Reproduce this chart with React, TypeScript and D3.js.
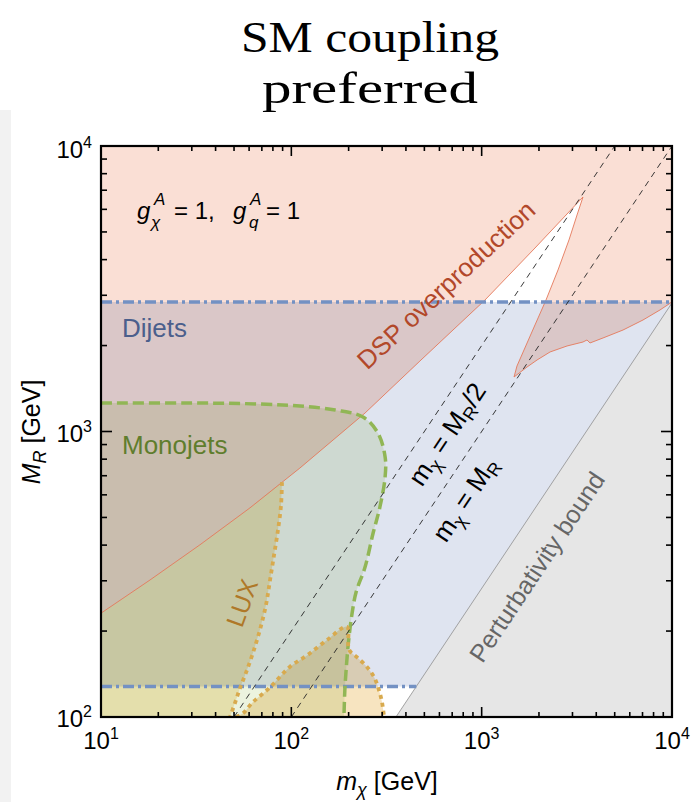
import React from 'react';
import * as d3 from 'd3';

// ---------- data (m_chi [GeV], M_R [GeV]) ----------
const xDomain = [10, 10000];
const yDomain = [100, 10000];
const xMajor = [10, 100, 1000, 10000];
const yMajor = [100, 1000, 10000];
const xTickExp = ['1', '2', '3', '4'];
const yTickExp = ['2', '3', '4'];

// DSP overproduction boundary (upper-left edge, up to tip)
const dspUpperM = [10, 18.1, 33.1, 60.6, 111, 244, 474, 1041, 1906, 3407];
const dspUpperMR = [231, 302, 401, 540, 745, 1161, 1766, 2888, 4392, 6628];
// right edge of allowed wedge, from tip down to cusp
const dspWedgeM = [3170, 2876, 2518, 2178, 1906, 1669, 1533, 1479];
const dspWedgeMR = [5733, 4688, 3679, 2888, 2361, 1930, 1696, 1552];
// lower lobe edge from cusp to right border
const dspLowerM = [1731, 1954, 2287, 2808, 3407, 3576, 3709, 4340, 5528, 7041, 8650, 10000];
const dspLowerMR = [1682, 1780, 1899, 1993, 2058, 2092, 2042, 2126, 2267, 2458, 2665, 2842];

// Dijets band
const dijetLow = 128;
const dijetHigh = 2840;

// Monojets boundary
const monoM = [10, 33.1, 68.4, 111, 170, 238, 285, 311, 311, 292, 269, 244, 219, 208, 199, 194, 191, 189];
const monoMR = [1258, 1258, 1248, 1228, 1189, 1124, 988, 814, 693, 544, 441, 335, 274, 228, 179, 146, 124, 100];

// LUX left region boundary
const luxM = [89.3, 88.3, 85.1, 81.1, 77.3, 73.6, 68.4, 62.9, 57.8, 53.7, 50.6, 47.6];
const luxMR = [665, 553, 452, 369, 302, 247, 202, 168, 143, 126, 112, 100];
// LUX dome (resonant region)
const domeM = [51.2, 55.7, 62.2, 77.3, 98.4, 122, 154, 196, 201, 221, 247, 272, 289, 300, 307];
const domeMR = [100, 103, 112, 127, 150, 165, 186, 207, 172, 162, 151, 138, 124, 112, 100];

// Perturbativity bound: m_chi = sqrt(4 pi) M_R
const pertFactor = Math.sqrt(4 * Math.PI);
// reference lines m_chi = M_R / k
const refRatios = [2, 1];

type P = [number, number];
const zip = (a: number[], b: number[]): P[] => a.map((v, i) => [v, b[i]] as P);

const SANS = 'Liberation Sans, Arial, Helvetica, sans-serif';
const SERIF = 'Liberation Serif, Times New Roman, serif';

export default function App() {
  const X0 = 101, X1 = 672, Y0 = 717, Y1 = 146;
  const x = d3.scaleLog().domain(xDomain).range([X0, X1]);
  const y = d3.scaleLog().domain(yDomain).range([Y0, Y1]);
  const line = d3.line<P>().x(d => x(d[0])).y(d => y(d[1]));
  const smooth = d3.line<P>().x(d => x(d[0])).y(d => y(d[1])).curve(d3.curveCatmullRom.alpha(0.5));

  const dspUpper = zip(dspUpperM, dspUpperMR);
  const dspWedge = zip(dspWedgeM, dspWedgeMR);
  const dspLower = zip(dspLowerM, dspLowerMR);
  const dspEdge = [...dspUpper, ...dspWedge, ...dspLower];
  const dspPoly: P[] = [[10, 10000], ...dspEdge, [10000, 10000]];

  const mono = zip(monoM, monoMR);
  const monoFill = smooth(mono) + `L${x(10)},${y(100)}Z`;

  const lux = zip(luxM, luxMR);
  const luxPoly: P[] = [[10, 100], ...dspUpper.filter(p => p[0] < luxM[0]), ...lux];
  const dome = zip(domeM, domeMR);

  const pertLow: P = [100 * pertFactor, 100];
  const pertHigh: P = [10000, 10000 / pertFactor];
  const grayPoly: P[] = [pertLow, pertHigh, [10000, 100]];

  const bandPoly: P[] = [[10, dijetLow], [10, dijetHigh], [10000, dijetHigh], [10000, dijetLow]];

  // ticks
  const minorX: number[] = [];
  [10, 100, 1000].forEach(d => { for (let k = 2; k <= 9; k++) minorX.push(d * k); });
  const minorY: number[] = [];
  [100, 1000].forEach(d => { for (let k = 2; k <= 9; k++) minorY.push(d * k); });

  const tickStroke = { stroke: '#000', strokeWidth: 1.6 };
  const mult = { mixBlendMode: 'multiply' as const };

  return (
    <svg width={691} height={802} style={{ position: 'absolute', left: 0, top: 0, background: '#fff' }}
      xmlns="http://www.w3.org/2000/svg">
      <rect x={0} y={0} width={691} height={802} fill="#fff" />
      <rect x={0} y={110} width={11} height={692} fill="#f2f2f2" />
      <defs>
        <clipPath id="plot">
          <rect x={X0} y={Y1} width={X1 - X0} height={Y0 - Y1} />
        </clipPath>
      </defs>

      {/* title */}
      <text x={370} y={52} textAnchor="middle" fontFamily={SERIF} fontSize={45}
        textLength={258} lengthAdjust="spacingAndGlyphs">SM coupling</text>
      <text x={370} y={103} textAnchor="middle" fontFamily={SERIF} fontSize={45}
        textLength={216} lengthAdjust="spacingAndGlyphs">preferred</text>

      <g clipPath="url(#plot)" style={{ isolation: 'isolate' }}>
        <rect x={X0} y={Y1} width={X1 - X0} height={Y0 - Y1} fill="#fff" />
        {/* fills */}
        <path d={line(bandPoly) + 'Z'} fill="rgb(223,228,240)" style={mult} />
        <path d={line(dspPoly) + 'Z'} fill="rgb(250,223,213)" style={mult} />
        <path d={monoFill} fill="rgb(236,243,222)" style={mult} />
        <path d={line(luxPoly) + 'Z'} fill="rgb(247,234,198)" style={mult} />
        <path d={smooth(dome) + 'Z'} fill="rgb(247,228,192)" style={mult} />
        <path d={line(grayPoly) + 'Z'} fill="#e6e6e6" />

        {/* boundaries */}
        <path d={line(dspEdge)!} fill="none" stroke="rgb(228,120,90)" strokeWidth={0.9} />
        <path d={line([pertLow, pertHigh])!} fill="none" stroke="#999" strokeWidth={0.9} />
        <path d={line([[10, dijetHigh], [10000, dijetHigh]])!} fill="none" stroke="rgb(115,145,195)"
          strokeWidth={3.5} strokeDasharray="11,4,3,4" />
        <path d={line([[10, dijetLow], [dijetLow * pertFactor, dijetLow]])!} fill="none" stroke="rgb(115,145,195)"
          strokeWidth={3.5} strokeDasharray="11,4,3,4" />
        <path d={smooth(mono)!} fill="none" stroke="rgb(145,182,85)" strokeWidth={3.5} strokeDasharray="11,5" />
        <path d={smooth(lux)!} fill="none" stroke="rgb(216,170,78)" strokeWidth={3.8} strokeDasharray="4,4" />
        <path d={smooth(dome)!} fill="none" stroke="rgb(216,170,78)" strokeWidth={3.8} strokeDasharray="4,4" />

        {refRatios.map((k, i) => (
          <path key={i} d={line([[100 / k, 100], [10000 / k, 10000]])!} fill="none" stroke="#222"
            strokeWidth={0.9} strokeDasharray="6,5" />
        ))}
      </g>

      {/* in-plot labels */}
      <g fontFamily={SANS}>
        <text x={137} y={219} fontSize={24} fontStyle="italic">g</text>
        <text x={154} y={205} fontSize={17} fontStyle="italic">A</text>
        <text x={151} y={228} fontSize={17} fontStyle="italic">χ</text>
        <text x={174} y={219} fontSize={24}>= 1,</text>
        <text x={233} y={219} fontSize={24} fontStyle="italic">g</text>
        <text x={250} y={205} fontSize={17} fontStyle="italic">A</text>
        <text x={249} y={228} fontSize={17} fontStyle="italic">q</text>
        <text x={266} y={219} fontSize={24}>= 1</text>

        <text x={122} y={337} fontSize={26} fill="rgb(75,95,140)">Dijets</text>
        <text x={122} y={454} fontSize={26} fill="rgb(95,125,45)">Monojets</text>

        <text transform="translate(446,285) rotate(-43)" textAnchor="middle" dy="0.35em" fontSize={26}
          fill="rgb(178,72,42)">DSP overproduction</text>
        <text transform="translate(242,603) rotate(-70)" textAnchor="middle" dy="0.35em" fontSize={25}
          fill="rgb(175,120,40)">LUX</text>
        <text transform="translate(447,434) rotate(-56.3)" textAnchor="middle" dy="0.35em" fontSize={26}>
          m<tspan dy={5} fontSize={18}>χ</tspan><tspan dy={-5}> = M</tspan><tspan dy={5} fontSize={18}>R</tspan><tspan dy={-5}>/2</tspan>
        </text>
        <text transform="translate(465,499) rotate(-56.3)" textAnchor="middle" dy="0.35em" fontSize={26}>
          m<tspan dy={5} fontSize={18}>χ</tspan><tspan dy={-5}> = M</tspan><tspan dy={5} fontSize={18}>R</tspan>
        </text>
        <text transform="translate(537,567) rotate(-56.3)" textAnchor="middle" dy="0.35em" fontSize={25}
          fill="#666">Perturbativity bound</text>
      </g>

      {/* ticks */}
      <g>
        {xMajor.map((v, i) => (
          <g key={'xM' + i}>
            <line x1={x(v)} x2={x(v)} y1={Y0} y2={Y0 - 10} {...tickStroke} />
            <line x1={x(v)} x2={x(v)} y1={Y1} y2={Y1 + 10} {...tickStroke} />
          </g>
        ))}
        {minorX.map((v, i) => (
          <g key={'xm' + i}>
            <line x1={x(v)} x2={x(v)} y1={Y0} y2={Y0 - 5} {...tickStroke} />
            <line x1={x(v)} x2={x(v)} y1={Y1} y2={Y1 + 5} {...tickStroke} />
          </g>
        ))}
        {yMajor.map((v, i) => (
          <g key={'yM' + i}>
            <line y1={y(v)} y2={y(v)} x1={X0} x2={X0 + 11} {...tickStroke} />
            <line y1={y(v)} y2={y(v)} x1={X1} x2={X1 - 11} {...tickStroke} />
          </g>
        ))}
        {minorY.map((v, i) => (
          <g key={'ym' + i}>
            <line y1={y(v)} y2={y(v)} x1={X0} x2={X0 + 6} {...tickStroke} />
            <line y1={y(v)} y2={y(v)} x1={X1} x2={X1 - 6} {...tickStroke} />
          </g>
        ))}
      </g>
      <rect x={X0} y={Y1} width={X1 - X0} height={Y0 - Y1} fill="none" stroke="#000" strokeWidth={2.2} />

      {/* tick labels */}
      <g fontFamily={SANS} fontSize={24}>
        {xMajor.map((v, i) => (
          <text key={'xl' + i} x={x(v)} y={749} textAnchor="middle">
            10<tspan dy={-10} fontSize={16}>{xTickExp[i]}</tspan>
          </text>
        ))}
        {yMajor.map((v, i) => (
          <text key={'yl' + i} x={92} y={y(v) + (i === yMajor.length - 1 ? 12 : 10)} textAnchor="end">
            10<tspan dy={-10} fontSize={16}>{yTickExp[i]}</tspan>
          </text>
        ))}
      </g>

      {/* axis titles */}
      <text x={387} y={790} textAnchor="middle" fontFamily={SANS} fontSize={25}>
        <tspan fontStyle="italic">m</tspan><tspan dy={6} fontSize={18} fontStyle="italic">χ</tspan><tspan dy={-6}> [GeV]</tspan>
      </text>
      <text transform="translate(40,432) rotate(-90)" textAnchor="middle" fontFamily={SANS} fontSize={25}>
        <tspan fontStyle="italic">M</tspan><tspan dy={6} fontSize={18} fontStyle="italic">R</tspan><tspan dy={-6}> [GeV]</tspan>
      </text>
    </svg>
  );
}
